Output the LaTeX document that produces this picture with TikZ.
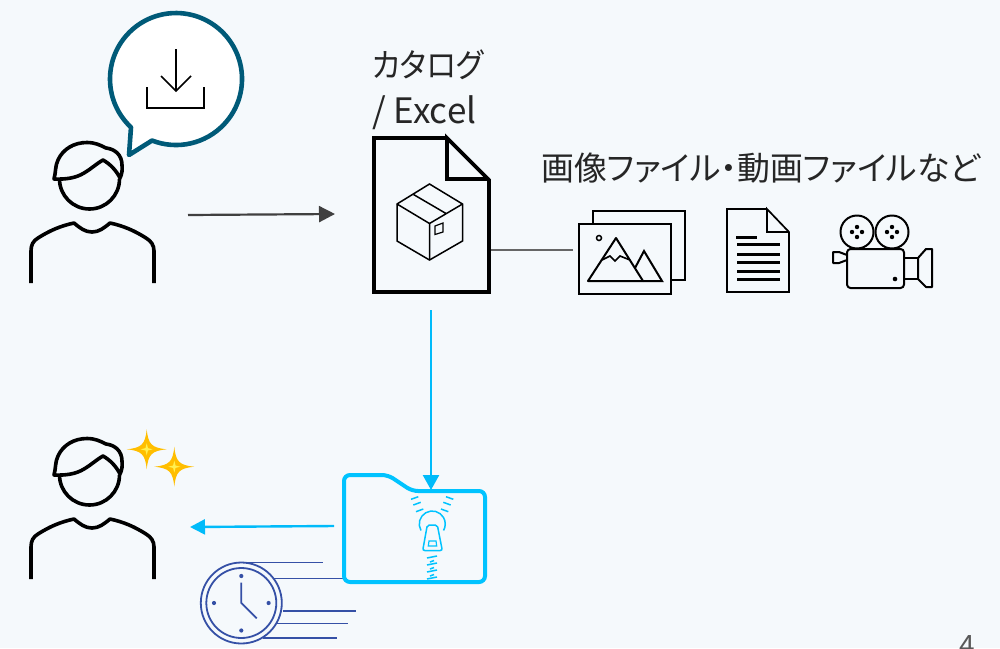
\documentclass[tikz,border=0pt]{standalone}
\usepackage{fontspec}
\setmainfont[RawFeature=+palt]{Noto Sans CJK JP}
\newfontfamily\katafont[RawFeature=+palt,FakeStretch=0.92]{Noto Sans CJK JP}
\usetikzlibrary{arrows.meta}
\definecolor{bgc}{HTML}{F5F9FC}
\definecolor{teal}{HTML}{005A78}
\definecolor{cyanb}{HTML}{00C3FF}
\definecolor{cyana}{HTML}{00BBFA}
\definecolor{clk}{HTML}{3550A6}
\definecolor{txtc}{HTML}{262626}
\definecolor{darka}{HTML}{404040}
\definecolor{starc}{HTML}{FFBE00}
\definecolor{starm}{HTML}{FFF050}
\tikzset{
 personpic/.pic={
  \draw[line width=3.6pt,line join=round] (59.5,179) arc[start angle=180,end angle=0,radius=30];
  \draw[line width=3.6pt,line join=round,fill=none]
    (54,179) .. controls (56,172) and (55,166) .. (58,160)
    .. controls (63,149) and (74,142.5) .. (87,142.5)
    .. controls (95,142.5) and (100,145) .. (106,148)
    .. controls (115,149) and (122,155) .. (122,165)
    .. controls (122.5,170) and (122,174) .. (120,178)
    .. controls (116,170) and (110,164) .. (103,160)
    .. controls (96,164) and (91,169) .. (84,173)
    .. controls (76,178) and (66,179.5) .. (54,179) -- cycle;
  \draw[line width=3.6pt,line join=round]
    (31,283) -- (31,251) .. controls (31,245) and (33,241) .. (38,238)
    .. controls (49,231) and (60,226) .. (74,223)
    .. controls (80,228) and (85,232) .. (92,232)
    .. controls (99,232) and (104,228) .. (110,223)
    .. controls (124,226) and (135,231) .. (146,238)
    .. controls (151,241) and (154,245) .. (154,251) -- (154,283);
 },
 thinicon/.style={line width=1.5pt,line join=miter,black},
 clockline/.style={line width=1.6pt,clk},
 zipline/.style={line width=1.5pt,cyanb},
 doctext/.style={text=txtc,inner sep=0pt,anchor=west},
}
\newcommand{\fourstar}[3]{%
  \fill[#3] (#1,#2-20) .. controls (#1+1.5,#2-5) and (#1+5,#2-1.5) .. (#1+20,#2)
   .. controls (#1+5,#2+1.5) and (#1+1.5,#2+5) .. (#1,#2+20)
   .. controls (#1-1.5,#2+5) and (#1-5,#2+1.5) .. (#1-20,#2)
   .. controls (#1-5,#2-1.5) and (#1-1.5,#2-5) .. (#1,#2-20) -- cycle;
  \fill[starm] (#1,#2-6) -- (#1+1.2,#2-1.2) -- (#1+6,#2) -- (#1+1.2,#2+1.2) -- (#1,#2+6) -- (#1-1.2,#2+1.2) -- (#1-6,#2) -- (#1-1.2,#2-1.2) -- cycle;
}
\begin{document}
\begin{tikzpicture}[x=1pt,y=-1pt]
\useasboundingbox (0,0) rectangle (1000,648);
\clip (0,0) rectangle (1000,648);
\fill[bgc] (0,0) rectangle (1000,648);

% connector ends
\coordinate (userOut) at (188,215);
\coordinate (docIn) at (335,214);
\coordinate (docOut) at (491,250);
\coordinate (mediaIn) at (573,250);
\coordinate (docDown) at (431,310);
\coordinate (zipIn) at (431,490);
\coordinate (zipOut) at (334,526);
\coordinate (userIn) at (190,527);

% persons
\pic at (0,0) {personpic};
\pic at (0,296) {personpic};

% bubble
\draw[teal,line width=4.6pt,fill=white,line join=round]
  (131,127.3) arc[start angle=133,end angle=471.3,radius=66] -- (129,155) -- cycle;
\draw[thinicon,line width=1.6pt] (176,49) -- (176,91) (161,76) -- (176,91) -- (191,76);
\draw[thinicon,line width=1.6pt] (147,87) -- (147,108) -- (204,108) -- (204,87);

% texts
\node[doctext,font=\katafont\fontsize{33}{33}\selectfont] (t1) at (372,65) {カタログ};
\node[doctext,font=\fontsize{35}{35}\selectfont] (t2) at (372,113) {/ Excel};
\node[doctext,font=\fontsize{32.9}{32.9}\selectfont] (t3) at (541,168) {画像ファイル・動画ファイルなど};

% document
\draw[black,line width=3.8pt,line join=miter] (447,138) -- (374,138) -- (374,292) -- (489,292) -- (489,180) -- (447,138) -- (447,179) -- (489,179);
\draw[thinicon] (429.5,184) -- (462.5,204) -- (462.5,241) -- (429.5,260) -- (397,241) -- (397,204) -- cycle;
\draw[thinicon] (397,204) -- (429.5,223.5) -- (462.5,204) (429.5,223.5) -- (429.5,260) (413.5,194.5) -- (446,213.5);
\draw[thinicon,line width=1.2pt] (435,226) -- (443,223) -- (443,232) -- (435,234.5) -- cycle;

% connectors
\draw[darka,line width=2.2pt,-{Triangle[length=16pt,width=16pt]}] (userOut) -- (docIn);
\draw[black!60,line width=1.6pt] (docOut) -- (mediaIn);
\draw[cyana,line width=2.4pt,-{Triangle[length=15pt,width=16pt]}] (docDown) -- (zipIn);
\draw[cyana,line width=2.4pt,-{Triangle[length=15pt,width=15pt]}] (zipOut) -- (userIn);

% image icon
\draw[thinicon,line width=2pt] (593,224) -- (593,211) -- (685,211) -- (685,280) -- (671,280);
\draw[thinicon,line width=2pt] (579,224) rectangle (671,294);
\draw[thinicon] (599,238) circle[radius=2.5];
\draw[thinicon,line width=2pt,line join=round] (588,281) -- (616,238) -- (643,281) -- cycle;
\draw[thinicon,line width=2pt] (635,268) -- (644,251) -- (662,281) -- (643,281);
\draw[thinicon,line width=1.6pt] (602,260) -- (610,256) -- (615,261) -- (620,256) -- (630,260);

% doc icon
\draw[thinicon,line width=1.7pt] (767,209) -- (727,209) -- (727,292) -- (789,292) -- (789,232) -- (767,209) -- (767,232) -- (789,232);
\foreach \yy/\xa/\xb in {237/736/757,244.5/737/780,254.5/737/780,262.5/737/780,271/737/780,279.5/737/780}
  \draw[black,line width=3pt] (\xa,\yy) -- (\xb,\yy);

% camera
\begin{scope}[line width=2pt,black,line join=round]
\draw (857,232) circle[radius=16.5];
\draw (892,232) circle[radius=16.5];
\draw[rounded corners=3.5pt] (847,249) rectangle (904,288);
\draw (904,258) -- (918,258) -- (918,279) -- (904,279);
\draw (918,258) -- (926,249) -- (932,249) -- (932,287) -- (926,287) -- (918,279) -- (918,258);
\draw (847,255) -- (839,252) -- (833,252) -- (833,263) -- (839,263) -- (847,260);
\end{scope}
\foreach \cx in {857,892}{
  \fill (\cx,227) circle[radius=2.2];
  \fill (\cx,237) circle[radius=2.2];
  \fill (\cx-5,232) circle[radius=2.2];
  \fill (\cx+5,232) circle[radius=2.2];
}
\fill (895,279) circle[radius=2.3];

% clock lines
\foreach \yy/\xa/\xb in {562.3/248/323,578.3/274/347,610.7/283/356,623.3/277/348,638/263/337}
  \draw[clockline] (\xa,\yy) -- (\xb,\yy);
\draw[clk,line width=1.8pt] (241.3,603) circle[radius=40.5];
\draw[clk,line width=1.8pt] (241.3,603) circle[radius=35];
\draw[clk,line width=1.8pt] (241.3,582.7) -- (241.3,603) -- (256.7,618.3);
\fill[clk] (241.3,576) circle[radius=2.1] (241.3,630.5) circle[radius=2.1] (214,603) circle[radius=2.1] (268.6,603) circle[radius=2.1];

% folder
\draw[cyanb,line width=4pt,rounded corners=6pt] (344,582) -- (344,475) -- (388,475) -- (412,491) -- (485,491) -- (485,582) -- cycle;
\draw[zipline] (411,499.3) -- (418.3,496.7) (413.3,505) -- (420.7,502.3) (416,511.7) -- (423.3,509)
  (446,496.7) -- (453.3,499.3) (443.3,502.3) -- (450.7,505) (441,509) -- (448.3,511.7);
\draw[zipline] (421,530.5) arc[start angle=150,end angle=390,radius=13];
\draw[zipline,rounded corners=2pt,fill=bgc] (427.3,525) -- (437.3,525) -- (442.3,550.5) -- (422.7,550.5) -- cycle;
\draw[zipline,line width=1.2pt] (429,541) -- (436,541) -- (436.7,546) -- (428.3,546) -- cycle;
\draw[zipline] (427,558) -- (437,556) (430,562) -- (434,560.5) (427,565) -- (437,563) (430,569) -- (434,567.5) (427,572) -- (437,570) (430,576) -- (434,574.5) (427,579) -- (437,577);

% stars
\fourstar{146.7}{449.3}{starc}
\fourstar{174.3}{466.7}{starc}

% page number
\node[inner sep=0pt,anchor=base,text=black!65,font=\fontsize{28}{28}\selectfont] (pg) at (967,655) {4};
\end{tikzpicture}
\end{document}
